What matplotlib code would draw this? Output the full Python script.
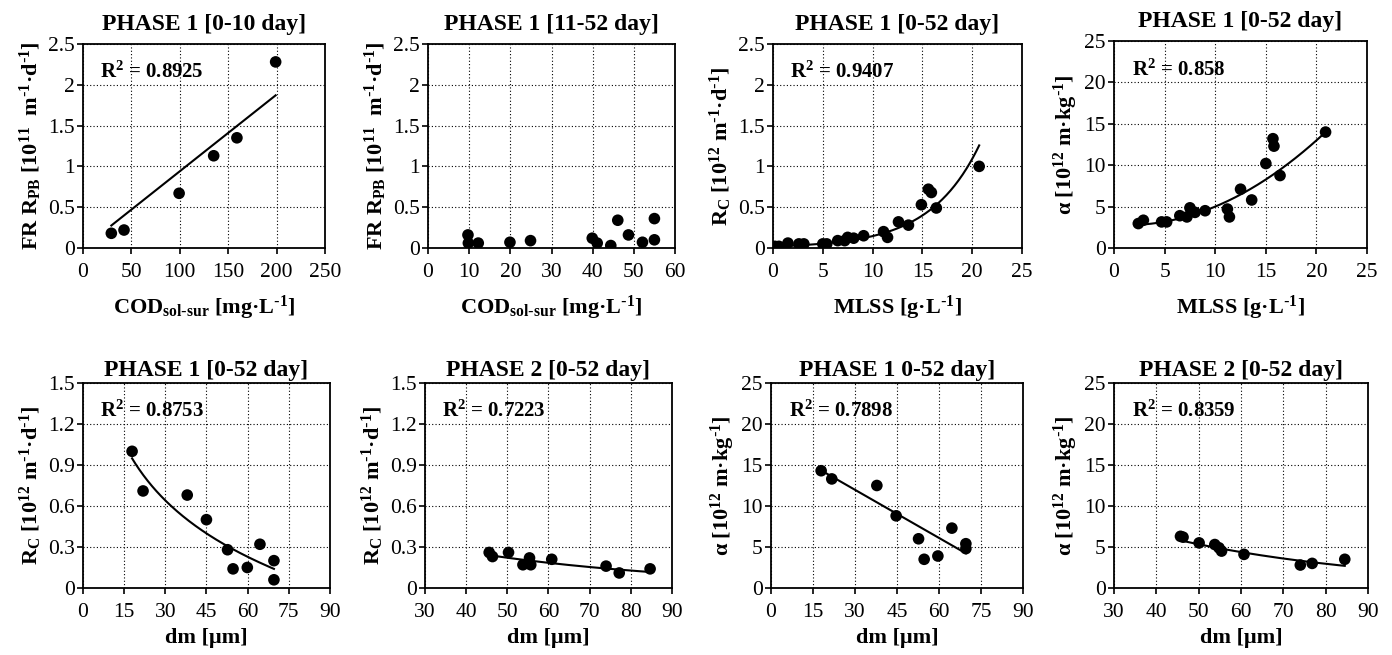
import numpy as np
import matplotlib
matplotlib.use("Agg")
import matplotlib.pyplot as plt
from matplotlib.ticker import FormatStrFormatter

plt.rcParams['font.family'] = ['Liberation Serif', 'DejaVu Serif']
plt.rcParams['mathtext.default'] = 'regular'

# ---- data ----
# top row
cod_p1 = [29.3, 42.4, 99.3, 135, 159, 199]
frpb_p1 = [0.18, 0.22, 0.67, 1.13, 1.35, 2.28]

cod_p1b = [9.7, 9.8, 12.2, 19.9, 24.9, 39.9, 41.1, 44.4, 46.1, 48.7, 52.1, 55.0, 55.0]
frpb_p1b = [0.16, 0.06, 0.06, 0.07, 0.09, 0.12, 0.06, 0.03, 0.34, 0.16, 0.07, 0.10, 0.36]

mlss_rc = [0.2, 0.6, 1.5, 2.6, 3.1, 5.0, 5.4, 6.5, 7.2, 7.5, 8.1, 9.1, 11.1, 11.5,
           12.6, 13.6, 14.9, 15.6, 15.9, 16.4, 20.7]
rc_mlss = [0.02, 0.02, 0.06, 0.05, 0.05, 0.05, 0.05, 0.09, 0.09, 0.13, 0.12, 0.15, 0.20, 0.13,
           0.32, 0.28, 0.53, 0.72, 0.68, 0.49, 1.00]

mlss_alpha = [2.4, 2.9, 4.7, 5.2, 6.5, 7.2, 7.5, 8.0, 9.0, 11.2, 11.4, 12.5, 13.6,
              15.0, 15.7, 15.8, 16.4, 20.9]
alpha_mlss = [2.95, 3.35, 3.15, 3.15, 3.9, 3.75, 4.85, 4.3, 4.5, 4.7, 3.75, 7.1, 5.8,
              10.2, 13.2, 12.3, 8.75, 14.0]

# bottom row
dm_ph1 = [17.9, 21.9, 38.0, 45.0, 52.7, 54.7, 59.9, 64.5, 69.6, 69.6]
rc_ph1 = [1.00, 0.71, 0.68, 0.50, 0.28, 0.14, 0.15, 0.32, 0.20, 0.06]

dm_ph2 = [45.6, 46.4, 50.3, 53.8, 55.4, 55.7, 60.8, 74.0, 77.2, 84.7]
rc_ph2 = [0.26, 0.23, 0.26, 0.17, 0.22, 0.17, 0.21, 0.16, 0.11, 0.14]

dm_ph1a = [17.9, 21.7, 37.8, 44.7, 52.7, 54.7, 59.6, 64.6, 69.6, 69.6]
alpha_ph1 = [14.3, 13.3, 12.5, 8.8, 6.0, 3.5, 3.9, 7.3, 5.4, 4.8]

dm_ph2a = [45.7, 46.3, 50.1, 53.8, 54.8, 55.4, 60.7, 74.0, 76.8, 84.5]
alpha_ph2 = [6.3, 6.2, 5.5, 5.3, 4.9, 4.5, 4.1, 2.8, 3.0, 3.5]

# trend lines (type, coefficients)
fit_p1 = ('lin', 0.0094, 0.0)
fit_p2 = None
fit_p3 = ('exp', 0.0194, 0.2015)
fit_p4 = ('quad', 0.029, -0.070, 2.80)
fit_p5 = ('log', 2.666, -0.5954)
fit_p6 = ('exp', 0.5547, -0.01837)
fit_p7 = ('lin', -0.1956, 17.84)
fit_p8 = ('exp', 14.28, -0.01971)

r2_labels = ['0.8925', None, '0.9407', '0.858', '0.8753', '0.7223', '0.7898', '0.8359']

titles = ['PHASE 1 [0-10 day]', 'PHASE 1 [11-52 day]', 'PHASE 1 [0-52 day]', 'PHASE 1 [0-52 day]',
          'PHASE 1 [0-52 day]', 'PHASE 2 [0-52 day]', 'PHASE 1 0-52 day]', 'PHASE 2 [0-52 day]']

neg1 = '$^{\\text{-}1}$'
ylab_frpb = 'FR R$_{PB}$ [10$^{11}$  m' + neg1 + '·d' + neg1 + ']'
ylab_rc = 'R$_{C}$ [10$^{12}$ m' + neg1 + '·d' + neg1 + ']'
ylab_alpha = 'α [10$^{12}$ m·kg' + neg1 + ']'
xlab_cod = 'COD$_{sol\\text{-}sur}$ [mg·L' + neg1 + ']'
xlab_mlss = 'MLSS [g·L' + neg1 + ']'
xlab_dm = 'dm [μm]'


def trend(fit, x):
    kind = fit[0]
    if kind == 'lin':
        return fit[1] * x + fit[2]
    if kind == 'exp':
        return fit[1] * np.exp(fit[2] * x)
    if kind == 'quad':
        return fit[1] * x ** 2 + fit[2] * x + fit[3]
    if kind == 'log':
        return fit[1] + fit[2] * np.log(x)


panels = [
    (cod_p1, frpb_p1, fit_p1, (0, 250, 50), (0, 2.5, 0.5), xlab_cod, ylab_frpb),
    (cod_p1b, frpb_p1b, fit_p2, (0, 60, 10), (0, 2.5, 0.5), xlab_cod, ylab_frpb),
    (mlss_rc, rc_mlss, fit_p3, (0, 25, 5), (0, 2.5, 0.5), xlab_mlss, ylab_rc),
    (mlss_alpha, alpha_mlss, fit_p4, (0, 25, 5), (0, 25, 5), xlab_mlss, ylab_alpha),
    (dm_ph1, rc_ph1, fit_p5, (0, 90, 15), (0, 1.5, 0.3), xlab_dm, ylab_rc),
    (dm_ph2, rc_ph2, fit_p6, (30, 90, 10), (0, 1.5, 0.3), xlab_dm, ylab_rc),
    (dm_ph1a, alpha_ph1, fit_p7, (0, 90, 15), (0, 25, 5), xlab_dm, ylab_alpha),
    (dm_ph2a, alpha_ph2, fit_p8, (30, 90, 10), (0, 25, 5), xlab_dm, ylab_alpha),
]

# axes rectangles in figure fraction (left, bottom, width, height)
boxes = [
    (0.0596, 0.6214, 0.1739, 0.3115),
    (0.3075, 0.6214, 0.1774, 0.3115),
    (0.5553, 0.6214, 0.1789, 0.3115),
    (0.8003, 0.6214, 0.1818, 0.3160),
    (0.0596, 0.1023, 0.1774, 0.3130),
    (0.3053, 0.1023, 0.1774, 0.3130),
    (0.5539, 0.1023, 0.1810, 0.3130),
    (0.8003, 0.1023, 0.1825, 0.3130),
]

fig = plt.figure(figsize=(13.92, 6.55), dpi=100)

for i, (x, y, fit, xr, yr, xl, yl) in enumerate(panels):
    ax = fig.add_axes(boxes[i])
    ax.scatter(x, y, s=70, color='black', zorder=3, edgecolors='none')
    if fit is not None:
        xs = np.linspace(min(x), max(x), 200)
        ax.plot(xs, trend(fit, xs), color='black', lw=1.5, zorder=2)
    ax.set_xlim(xr[0], xr[1])
    ax.set_ylim(yr[0], yr[1])
    ax.set_xticks(np.arange(xr[0], xr[1] + xr[2] / 2, xr[2]))
    ax.set_yticks(np.arange(yr[0], yr[1] + yr[2] / 2, yr[2]))
    ax.xaxis.set_major_formatter(FormatStrFormatter('%g'))
    ax.yaxis.set_major_formatter(FormatStrFormatter('%g'))
    ax.grid(True, color='black', linestyle=(0, (1, 2)), linewidth=0.8)
    ax.set_axisbelow(True)
    ax.tick_params(direction='out', length=4, width=1.2, labelsize=15.5)
    ax.tick_params(axis='x', pad=7)
    ax.tick_params(axis='y', pad=2)
    for sp in ax.spines.values():
        sp.set_linewidth(1.3)
    ax.set_title(titles[i], fontsize=17, fontweight='bold', pad=10 if i < 4 else 5)
    ax.set_ylabel(yl, fontsize=16, fontweight='bold', labelpad=3)
    ax.set_xlabel(xl, fontsize=16, fontweight='bold', labelpad=8 if i < 4 else 4)
    if r2_labels[i] is not None:
        ax.text(0.07, 0.86, 'R$^{2}$ = ' + r2_labels[i], transform=ax.transAxes,
                fontsize=15, fontweight='bold', va='center', ha='left')

fig.savefig('out.png', dpi=100)
